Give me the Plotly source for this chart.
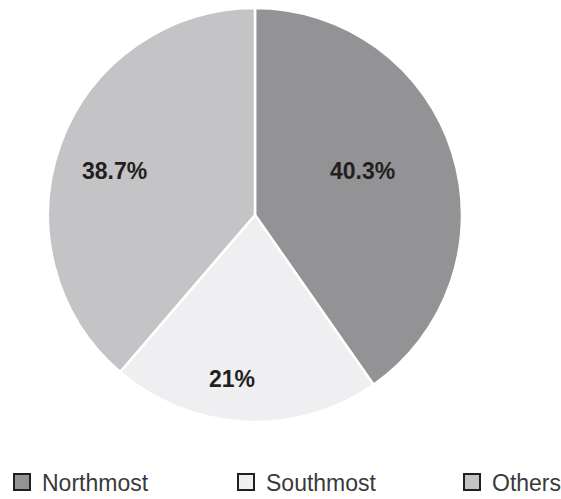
import math
import plotly.graph_objects as go

# Share of catch by region
regions = ["Northmost", "Southmost", "Others"]
shares = [40.3, 21.0, 38.7]
colors = ["#939396", "#efeff1", "#c4c4c6"]

W, H = 561, 499
cx, cy, r = 255, 215, 207

# label placement inside each slice: fraction of radius and angular nudge (deg)
label_radius = [0.56, 0.80, 0.71]
label_nudge = [-5, 5, -3]

# left edge (px) of each legend entry along the bottom row
legend_left = [2, 226, 452]
legend_row_y = 482

fig = go.Figure()

fig.add_trace(go.Pie(
    labels=regions,
    values=shares,
    sort=False,
    direction="clockwise",
    rotation=0,
    marker=dict(colors=colors, line=dict(color="#ffffff", width=2.5)),
    textinfo="none",
    showlegend=False,
    hoverinfo="label+percent",
    domain=dict(x=[(cx - r) / W, (cx + r) / W], y=[1 - (cy + r) / H, 1 - (cy - r) / H]),
))

# percentage labels positioned at each slice's mid-angle
total = sum(shares)
start = 0.0
for val, fr, nudge in zip(shares, label_radius, label_nudge):
    mid = (start + val / 2) / total * 360 + nudge
    start += val
    px = cx + fr * r * math.sin(math.radians(mid))
    py = cy - fr * r * math.cos(math.radians(mid))
    fig.add_annotation(
        x=px / W, y=1 - py / H, xref="paper", yref="paper",
        text=f"{val:g}%", showarrow=False,
        font=dict(family="Liberation Sans, Arial, sans-serif", size=23, color="#231f20", weight="bold"),
        xanchor="center", yanchor="middle",
    )

# Legend entries drawn as square markers with a dark outline, one legend each
legend_font = dict(family="Liberation Sans, Arial, sans-serif", size=23, color="#3a3a3a")
layout_legends = {}
for i, (name, col, lx) in enumerate(zip(regions, colors, legend_left)):
    key = "legend" if i == 0 else f"legend{i + 1}"
    fig.add_trace(go.Scatter(
        x=[None], y=[None], mode="markers", name=name, legend=key,
        marker=dict(symbol="square", size=18, color=col, line=dict(color="#231f20", width=2)),
        showlegend=True,
    ))
    layout_legends[key] = dict(
        orientation="h", x=lx / W, xanchor="left",
        y=1 - legend_row_y / H, yanchor="middle",
        font=legend_font, itemsizing="trace", bgcolor="rgba(0,0,0,0)",
    )

fig.update_layout(
    width=W, height=H,
    margin=dict(l=0, r=0, t=0, b=0, autoexpand=False),
    paper_bgcolor="white", plot_bgcolor="white",
    xaxis=dict(visible=False), yaxis=dict(visible=False),
    **layout_legends,
)

fig.write_html("out.html")
